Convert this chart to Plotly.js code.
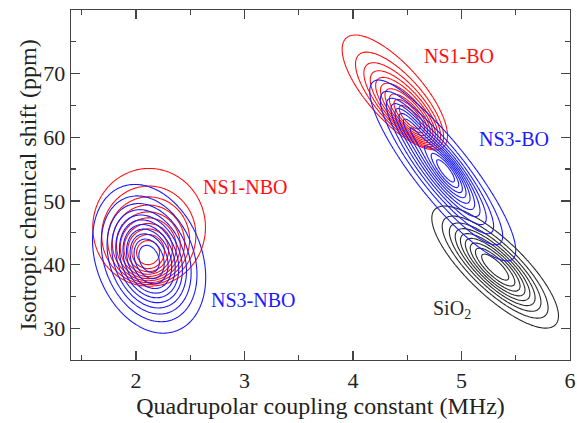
<!DOCTYPE html>
<html>
<head>
<meta charset="utf-8">
<script src="https://cdn.plot.ly/plotly-3.0.1.min.js"></script>
<style>
  html, body { margin: 0; padding: 0; background: #fff; }
  #plot { width: 577px; height: 423px; }
</style>
</head>
<body>
<div id="plot"></div>
<script>
// Site populations in (Cq, delta_iso) space. Each band is a sum of tilted
// Gaussian-like components; a component may drift (its level ellipses move
// by drift * r^2), which gives the lopsided, skewed contour families.
const bandNames  = ['SiO2', 'NS1-NBO', 'NS1-BO', 'NS3-NBO', 'NS3-BO'];
const bandColors = ['#2a2a2a', '#ff1010', '#ff1010', '#1a1aff', '#1a1aff'];

// Component table (one entry per component)
const compBand    = [0,      1,      2,       3,      4,      4,      4];
const compCq      = [5.31,   2.11,   4.53,    2.12,   4.83,   4.87,   4.50];
const compShift   = [39.6,   41.7,   63.0,    40.9,   54.6,   54.8,   62.3];
const compSdCq    = [0.272,  0.231,  0.216,   0.232,  0.32,   0.12,   0.12];
const compSdShft  = [4.47,   4.12,   4.02,    5.2,    6.7,    2.6,    2.6];
const compCorr    = [-0.80,  0.0,    -0.75,   -0.25,  -0.88,  -0.80,  -0.80];
const compDriftCq = [0.0,    0.002,  -0.0287, 0.0,    0.0,    0.0,    0.0];
const compDriftSh = [0.0,    0.82,   0.80,    0.0,    0.0,    0.0,    0.0];
const compWeight  = [1.0,    1.0,    1.0,     1.0,    0.70,   0.30,   0.25];

// Contour levels, as fractions of each band's maximum
const levelLow   = [0.10, 0.08, 0.08, 0.08, 0.08];
const levelHigh  = [0.90, 0.90, 0.90, 0.92, 0.92];
const levelCount = [9,    10,   10,   11,   11];

// Text labels beside each band
const labelText = ['SiO<sub>2</sub>', 'NS1-NBO', 'NS1-BO', 'NS3-NBO', 'NS3-BO'];
const labelCq   = [4.91, 3.00, 4.98, 3.08, 5.48];
const labelDel  = [32.9, 52.2, 72.8, 34.4, 59.7];

// Evaluation grid
const gridX = [], gridY = [];
for (let v = 1.40; v <= 6.0001; v += 0.015) gridX.push(+v.toFixed(4));
for (let v = 25.0; v <= 80.0001; v += 0.15) gridY.push(+v.toFixed(3));

// Squared "radius" s = r^2 of the level ellipse through (x, y) for component k:
// (d - s*a)^T M (d - s*a) = s, taking the smallest root.
function levelRadius2(k, x, y) {
  const sx = compSdCq[k], sy = compSdShft[k], rho = compCorr[k];
  const f = 1 / (1 - rho * rho);
  const qf = (u, v, p, q) => f * (u * p / (sx * sx) - rho * (u * q + v * p) / (sx * sy) + v * q / (sy * sy));
  const dx = x - compCq[k], dy = y - compShift[k];
  const ax = compDriftCq[k], ay = compDriftSh[k];
  const P = qf(ax, ay, ax, ay), Q = qf(ax, ay, dx, dy), R = qf(dx, dy, dx, dy);
  const b = 2 * Q + 1;
  if (P < 1e-12) return b > 0 ? R / b : Infinity;
  const disc = b * b - 4 * P * R;
  if (disc < 0 || b <= 0) return Infinity;
  return (b - Math.sqrt(disc)) / (2 * P);
}

function density(b, x, y) {
  let s = 0;
  for (let k = 0; k < compBand.length; k++) {
    if (compBand[k] !== b) continue;
    s += compWeight[k] * Math.exp(-0.5 * levelRadius2(k, x, y));
  }
  return s;
}

const traces = bandNames.map((name, b) => {
  let zmax = 0;
  const z = gridY.map(y => gridX.map(x => {
    const v = density(b, x, y);
    if (v > zmax) zmax = v;
    return v;
  }));
  const zn = z.map(row => row.map(v => v / zmax));
  const step = (levelHigh[b] - levelLow[b]) / (levelCount[b] - 1);
  const c = bandColors[b];
  return {
    type: 'contour', name: name,
    x: gridX, y: gridY, z: zn,
    autocontour: false,
    contours: { coloring: 'lines', start: levelLow[b], end: levelHigh[b] + 1e-6, size: step, showlabels: false },
    colorscale: [[0, c], [1, c]],
    showscale: false,
    line: { width: 1.1, smoothing: 0.8 },
    hoverinfo: 'skip'
  };
});

const serif = '"Liberation Serif", "Times New Roman", Times, serif';
const axisColor = '#444';

const annotations = labelText.map((t, i) => ({
  x: labelCq[i], y: labelDel[i], xref: 'x', yref: 'y',
  text: t, showarrow: false,
  font: { family: serif, size: 20, color: bandColors[i] },
  xanchor: 'center', yanchor: 'middle'
}));

const layout = {
  width: 577, height: 423,
  margin: { l: 71, r: 7, t: 10, b: 63 },
  paper_bgcolor: '#fff', plot_bgcolor: '#fff',
  showlegend: false,
  font: { family: serif, color: '#222' },
  xaxis: {
    range: [1.4, 6], tick0: 0, dtick: 1,
    ticks: 'inside', ticklen: 9, tickwidth: 1.3, tickcolor: axisColor,
    minor: { dtick: 0.5, ticks: 'inside', ticklen: 5, tickwidth: 1.2, tickcolor: axisColor, showgrid: false },
    showline: true, linecolor: axisColor, linewidth: 1.3, mirror: 'ticks',
    showgrid: false, zeroline: false,
    tickfont: { family: serif, size: 22, color: '#222' },
    title: { text: 'Quadrupolar coupling constant (MHz)', font: { family: serif, size: 24, color: '#222' }, standoff: 4 },
    automargin: false
  },
  yaxis: {
    range: [25, 80], tick0: 0, dtick: 10,
    ticks: 'inside', ticklen: 9, tickwidth: 1.3, tickcolor: axisColor,
    minor: { dtick: 5, ticks: 'inside', ticklen: 5, tickwidth: 1.2, tickcolor: axisColor, showgrid: false },
    showline: true, linecolor: axisColor, linewidth: 1.3, mirror: 'ticks',
    showgrid: false, zeroline: false,
    tickfont: { family: serif, size: 22, color: '#222' },
    title: { text: 'Isotropic chemical shift (ppm)', font: { family: serif, size: 24, color: '#222' }, standoff: 0 },
    automargin: false
  },
  annotations: annotations
};

Plotly.newPlot('plot', traces, layout, { staticPlot: true, displayModeBar: false });
</script>
</body>
</html>
